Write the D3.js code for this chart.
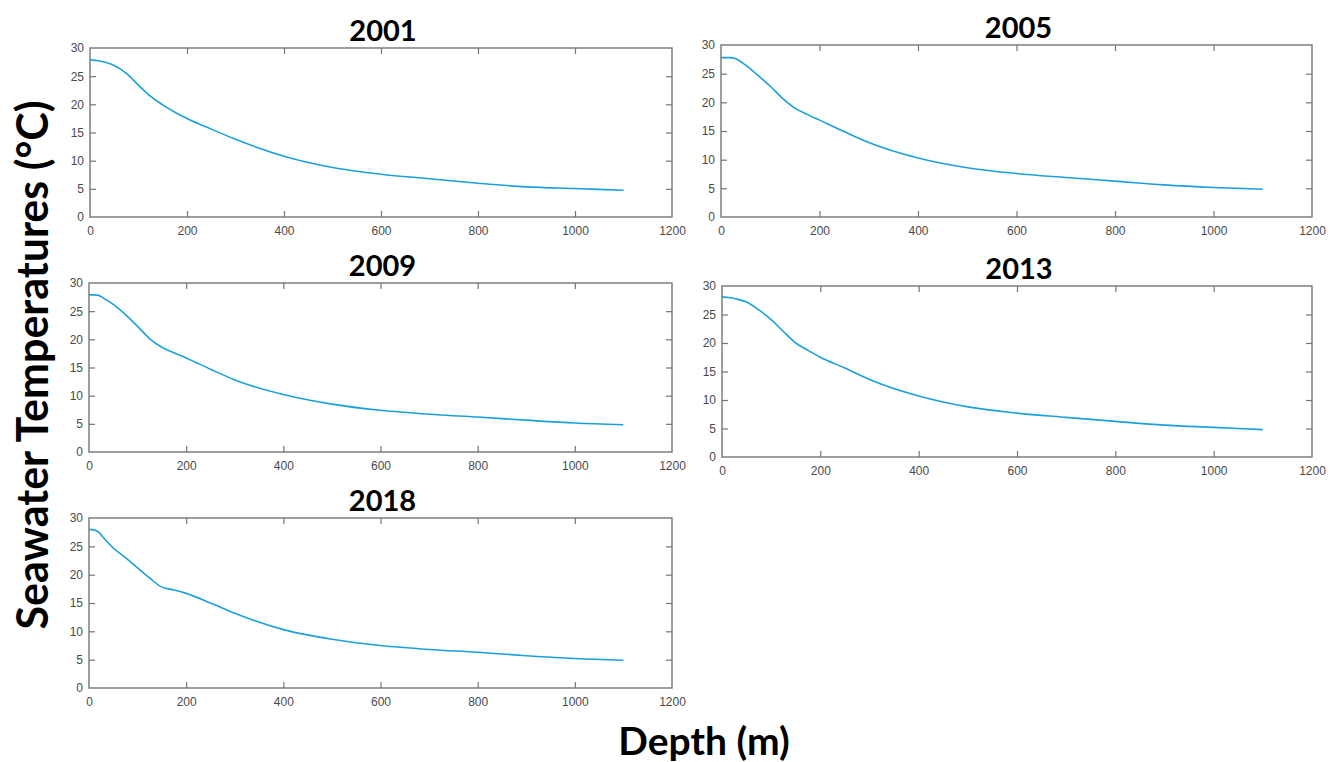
<!DOCTYPE html>
<html><head><meta charset="utf-8">
<script src="https://cdn.jsdelivr.net/npm/d3@7"></script>
<style>
body{margin:0;background:#fff;}
svg{display:block;}
</style></head>
<body>
<svg id="chart" width="1340" height="762"></svg>
<script>
// ---- data ----
const years = ["2001", "2005", "2009", "2013", "2018"];
const depths = [0, 10, 20, 30, 50, 75, 100, 125, 150, 175, 200, 250, 300, 400, 500, 600, 700, 800, 900, 1000, 1100];
const temp2001 = [27.9, 27.8, 27.7, 27.5, 26.9, 25.5, 23.4, 21.4, 19.9, 18.6, 17.5, 15.6, 13.8, 10.8, 8.8, 7.6, 6.8, 6.0, 5.35, 5.05, 4.75];
const temp2005 = [27.8, 27.8, 27.8, 27.6, 26.5, 24.7, 22.8, 20.7, 19.0, 17.9, 16.9, 14.9, 13.0, 10.3, 8.6, 7.6, 6.9, 6.25, 5.6, 5.15, 4.85];
const temp2009 = [27.9, 27.9, 27.8, 27.3, 26.2, 24.4, 22.3, 20.1, 18.6, 17.6, 16.7, 14.7, 12.8, 10.2, 8.5, 7.4, 6.7, 6.2, 5.65, 5.15, 4.85];
const temp2013 = [28.1, 28.0, 27.9, 27.7, 27.2, 25.8, 24.1, 22.0, 20.0, 18.7, 17.5, 15.6, 13.6, 10.7, 8.8, 7.7, 6.95, 6.25, 5.6, 5.2, 4.8];
const temp2018 = [28.0, 27.9, 27.5, 26.5, 24.7, 23.0, 21.2, 19.4, 17.8, 17.3, 16.7, 15.0, 13.2, 10.3, 8.6, 7.5, 6.8, 6.3, 5.7, 5.2, 4.9];
const xTicks = [0, 200, 400, 600, 800, 1000, 1200];
const yTicks = [0, 5, 10, 15, 20, 25, 30];
const yLabel = "Seawater Temperatures (°C)";
const xLabel = "Depth (m)";

const series = [temp2001, temp2005, temp2009, temp2013, temp2018];

// ---- layout (frame boxes of each panel) ----
const frames = [
  {x0: 90,  x1: 672,  y0: 48,  y1: 217},
  {x0: 721, x1: 1312, y0: 45,  y1: 217},
  {x0: 89,  x1: 672,  y0: 283, y1: 452},
  {x0: 722, x1: 1312, y0: 286, y1: 457},
  {x0: 89,  x1: 672,  y0: 518, y1: 688}
];

const svg = d3.select("#chart");
const frameColor = "#757575";
const tickColor = "#4a4a4a";
const lineColor = "#1ca0dc";

years.forEach((yr, i) => {
  const f = frames[i];
  const x = d3.scaleLinear().domain([0, 1200]).range([f.x0, f.x1]);
  const y = d3.scaleLinear().domain([0, 30]).range([f.y1, f.y0]);
  const g = svg.append("g");

  // inward ticks on all four sides
  const tl = 6;
  const axB = d3.axisBottom(x).tickValues(xTicks).tickSize(-tl).tickPadding(9).tickFormat(d3.format("d"));
  const axT = d3.axisTop(x).tickValues(xTicks).tickSize(-tl).tickFormat("");
  const axL = d3.axisLeft(y).tickValues(yTicks).tickSize(-tl).tickPadding(6).tickFormat(d3.format("d"));
  const axR = d3.axisRight(y).tickValues(yTicks).tickSize(-tl).tickFormat("");

  const gb = g.append("g").attr("transform", `translate(0,${f.y1})`).call(axB);
  const gt = g.append("g").attr("transform", `translate(0,${f.y0})`).call(axT);
  const gl = g.append("g").attr("transform", `translate(${f.x0},0)`).call(axL);
  const gr = g.append("g").attr("transform", `translate(${f.x1},0)`).call(axR);
  [gb, gt, gl, gr].forEach(a => {
    a.select(".domain").remove();
    a.selectAll(".tick line").attr("stroke", frameColor).attr("stroke-width", 1.2);
    a.selectAll(".tick text").attr("fill", tickColor).attr("font-family", "Liberation Sans, Arial, sans-serif").attr("font-size", 12);
  });
  [gb, gt].forEach(a => a.selectAll(".tick").filter(d => d === 0 || d === 1200).select("line").remove());
  [gl, gr].forEach(a => a.selectAll(".tick").filter(d => d === 0 || d === 30).select("line").remove());

  // frame
  g.append("rect")
    .attr("x", f.x0).attr("y", f.y0)
    .attr("width", f.x1 - f.x0).attr("height", f.y1 - f.y0)
    .attr("fill", "none").attr("stroke", frameColor).attr("stroke-width", 1.4);

  // line
  const line = d3.line().x((d, k) => x(depths[k])).y(d => y(d)).curve(d3.curveMonotoneX);
  g.append("path").datum(series[i])
    .attr("d", line).attr("fill", "none")
    .attr("stroke", lineColor).attr("stroke-width", 1.6)
    .attr("stroke-linejoin", "round");

  // title
  g.append("text")
    .attr("x", (f.x0 + f.x1) / 2 + 2).attr("y", f.y0 - 7)
    .attr("text-anchor", "middle")
    .attr("font-family", "Lato, Open Sans, sans-serif").attr("font-weight", "bold")
    .attr("font-size", 29).attr("fill", "#000")
    .text(yr);
});

// shared axis labels
svg.append("text")
  .attr("transform", "translate(48,365) rotate(-90)")
  .attr("text-anchor", "middle")
  .attr("font-family", "Lato, Open Sans, sans-serif").attr("font-weight", "bold")
  .attr("font-size", 43).attr("fill", "#000")
  .text(yLabel);

svg.append("text")
  .attr("x", 704).attr("y", 755)
  .attr("text-anchor", "middle")
  .attr("font-family", "Lato, Open Sans, sans-serif").attr("font-weight", "bold")
  .attr("font-size", 39).attr("fill", "#000")
  .text(xLabel);
</script>
</body></html>
